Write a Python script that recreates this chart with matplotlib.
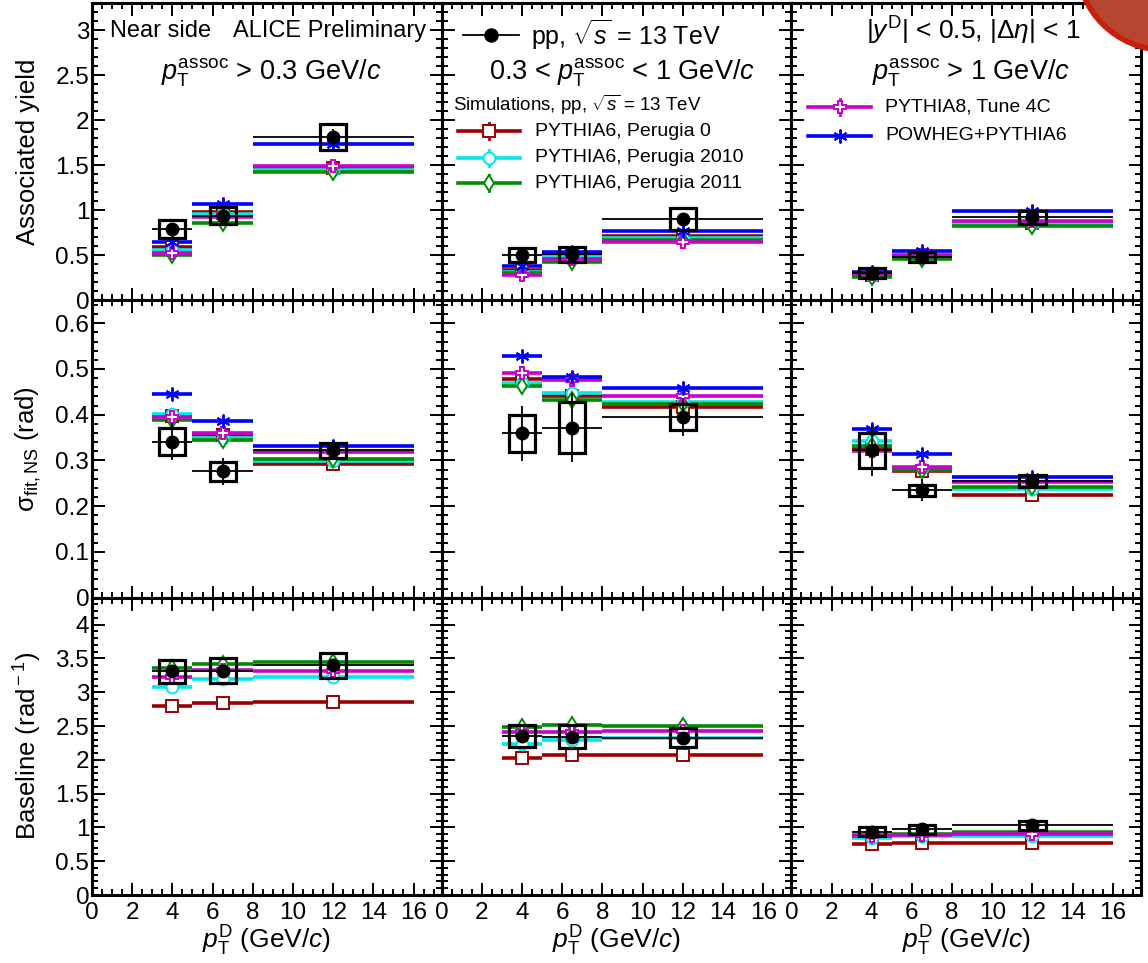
import matplotlib
matplotlib.use("Agg")
import matplotlib.pyplot as plt
from matplotlib.patches import Rectangle, Ellipse
from matplotlib.lines import Line2D
from matplotlib.ticker import MultipleLocator, FuncFormatter

plt.rcParams["font.family"] = ["Liberation Sans", "DejaVu Sans"]
plt.rcParams["mathtext.fontset"] = "custom"
plt.rcParams["mathtext.rm"] = "Liberation Sans"
plt.rcParams["mathtext.it"] = "Liberation Sans:italic"
plt.rcParams["mathtext.bf"] = "Liberation Sans:bold"

# D-meson pT bins
pt_lo = [3, 5, 8]
pt_hi = [5, 8, 16]
pt_mid = [4, 6.5, 12]

# columns: pT assoc > 0.3, 0.3-1, > 1 GeV/c
# associated yield
yield_data = [[0.79, 0.94, 1.81], [0.50, 0.51, 0.90], [0.30, 0.48, 0.92]]
yield_stat = [[0.04, 0.05, 0.09], [0.03, 0.03, 0.05], [0.02, 0.02, 0.04]]
yield_syst = [[0.10, 0.095, 0.145], [0.08, 0.08, 0.12], [0.055, 0.055, 0.075]]
yield_p0 = [[0.59, 0.98, 1.47], [0.34, 0.51, 0.71], [0.28, 0.48, 0.86]]
yield_p2010 = [[0.56, 0.96, 1.45], [0.31, 0.48, 0.69], [0.27, 0.49, 0.85]]
yield_p2011 = [[0.50, 0.86, 1.42], [0.30, 0.42, 0.67], [0.26, 0.46, 0.83]]
yield_p8 = [[0.53, 0.92, 1.49], [0.28, 0.46, 0.65], [0.29, 0.50, 0.88]]
yield_powheg = [[0.65, 1.07, 1.74], [0.38, 0.54, 0.77], [0.31, 0.55, 0.99]]

# near-side width
sigma_data = [[0.341, 0.276, 0.322], [0.359, 0.372, 0.395], [0.322, 0.235, 0.255]]
sigma_stat = [[0.04, 0.03, 0.02], [0.06, 0.075, 0.042], [0.056, 0.024, 0.015]]
sigma_syst = [[0.03, 0.02, 0.016], [0.041, 0.055, 0.029], [0.039, 0.012, 0.013]]
sigma_p0 = [[0.397, 0.355, 0.292], [0.477, 0.441, 0.417], [0.325, 0.276, 0.225]]
sigma_p2010 = [[0.401, 0.350, 0.299], [0.470, 0.448, 0.428], [0.343, 0.283, 0.237]]
sigma_p2011 = [[0.388, 0.345, 0.303], [0.463, 0.432, 0.423], [0.332, 0.280, 0.242]]
sigma_p8 = [[0.394, 0.359, 0.319], [0.492, 0.475, 0.441], [0.321, 0.286, 0.252]]
sigma_powheg = [[0.445, 0.386, 0.332], [0.528, 0.483, 0.459], [0.368, 0.314, 0.264]]

# baseline
base_data = [[3.31, 3.32, 3.40], [2.35, 2.34, 2.33], [0.935, 0.97, 1.03]]
base_stat = [[0.04, 0.04, 0.04], [0.03, 0.03, 0.03], [0.02, 0.02, 0.02]]
base_syst = [[0.17, 0.18, 0.185], [0.16, 0.17, 0.14], [0.065, 0.06, 0.07]]
base_p0 = [[2.80, 2.84, 2.86], [2.03, 2.07, 2.07], [0.75, 0.77, 0.77]]
base_p2010 = [[3.08, 3.19, 3.23], [2.24, 2.30, 2.33], [0.85, 0.87, 0.88]]
base_p2011 = [[3.36, 3.42, 3.45], [2.49, 2.51, 2.50], [0.886, 0.91, 0.925]]
base_p8 = [[3.23, 3.33, 3.32], [2.41, 2.41, 2.43], [0.87, 0.89, 0.90]]

# model styles: label, color, marker
models = [
    ("PYTHIA6, Perugia 0", "#990000", "s"),
    ("PYTHIA6, Perugia 2010", "#00e8e8", "o"),
    ("PYTHIA6, Perugia 2011", "#008c00", "d"),
    ("PYTHIA8, Tune 4C", "#cc00cc", "P"),
    ("POWHEG+PYTHIA6", "#0000ff", (6, 2, 0)),
]

rows = [
    (yield_data, yield_stat, yield_syst,
     [yield_p0, yield_p2010, yield_p2011, yield_p8, yield_powheg],
     3.3, 0.5, 0.1, "Associated yield"),
    (sigma_data, sigma_stat, sigma_syst,
     [sigma_p0, sigma_p2010, sigma_p2011, sigma_p8, sigma_powheg],
     0.65, 0.1, 0.02, r"$\mathrm{\sigma}_{\rm fit,NS}$ (rad)"),
    (base_data, base_stat, base_syst,
     [base_p0, base_p2010, base_p2011, base_p8, None],
     4.4, 0.5, 0.1, r"Baseline (rad$^{\rm -1}$)"),
]

W, H = 1148, 963
fig, axes = plt.subplots(3, 3, figsize=(W / 100, H / 100), dpi=100)
fig.subplots_adjust(left=92 / W, right=1141 / W, top=1 - 3 / H,
                    bottom=1 - 895 / H, wspace=0, hspace=0)

xerr = [[m - lo for m, lo in zip(pt_mid, pt_lo)],
        [hi - m for m, hi in zip(pt_mid, pt_hi)]]
fmt_g = FuncFormatter(lambda v, p: "%g" % round(v, 3))

for r, (data, stat, syst, mods, ymax, major, minor, ylab) in enumerate(rows):
    for c in range(3):
        ax = axes[r, c]
        for (label, col, mk), vals in zip(models, mods):
            if vals is None:
                continue
            ms = 10 if isinstance(mk, tuple) else 8.5
            ax.errorbar(pt_mid, vals[c], xerr=xerr, fmt="none", ecolor=col,
                        elinewidth=2.6, capsize=0, zorder=2)
            ax.plot(pt_mid, vals[c], ls="none", marker=mk, ms=ms, mec=col,
                    mfc="white" if mk != (6, 2, 0) else col, mew=1.4, zorder=3)
        ax.errorbar(pt_mid, data[c], xerr=xerr, yerr=stat[c], fmt="o",
                    color="black", ms=9, elinewidth=1.3, capsize=0, zorder=5)
        for x, y, s in zip(pt_mid, data[c], syst[c]):
            ax.add_patch(Rectangle((x - 0.65, y - s), 1.3, 2 * s, fill=False,
                                   ec="black", lw=2.3, zorder=6))

        ax.set_xlim(0, 17.4)
        ax.set_ylim(0, ymax)
        ax.xaxis.set_major_locator(MultipleLocator(2))
        ax.xaxis.set_minor_locator(MultipleLocator(0.5))
        ax.yaxis.set_major_locator(MultipleLocator(major))
        ax.yaxis.set_minor_locator(MultipleLocator(minor))
        ax.yaxis.set_major_formatter(fmt_g)
        ax.set_xticks([0, 2, 4, 6, 8, 10, 12, 14, 16])
        ax.tick_params(which="both", direction="in", top=True, right=True,
                       labelsize=17.5, width=1.4)
        ax.tick_params(which="major", length=9)
        ax.tick_params(which="minor", length=4.5)
        ax.tick_params(axis="y", pad=2)
        ax.tick_params(axis="x", pad=5)
        for sp in ax.spines.values():
            sp.set_linewidth(2.2)
        if c > 0:
            ax.tick_params(labelleft=False)
        if r < 2:
            ax.tick_params(labelbottom=False)
        else:
            ax.text(0.5, -0.155, r"$\it{p}_{\rm T}^{\rm D}$ (GeV/$\it{c}$)",
                    transform=ax.transAxes, ha="center", va="center", fontsize=19)
    pos = axes[r, 0].get_position()
    fig.text(28 / W, (pos.y0 + pos.y1) / 2, ylab, rotation=90, ha="center",
             va="center", fontsize=18.5)


def fx(x):
    return x / W


def fy(y):
    return 1 - y / H


# panel captions
fig.text(fx(110), fy(31), "Near side", fontsize=17, va="center")
fig.text(fx(233), fy(31), "ALICE Preliminary", fontsize=17, va="center")
fig.text(fx(271), fy(73), r"$\it{p}_{\rm T}^{\rm assoc}$ > 0.3 GeV/$\it{c}$",
         fontsize=19.5, ha="center", va="center")
fig.text(fx(622), fy(73), r"0.3 < $\it{p}_{\rm T}^{\rm assoc}$ < 1 GeV/$\it{c}$",
         fontsize=19.5, ha="center", va="center")
fig.text(fx(973), fy(31), r"|$\it{y}^{\rm D}$| < 0.5, |$\Delta\eta$| < 1",
         fontsize=19, ha="center", va="center")
fig.text(fx(971), fy(73), r"$\it{p}_{\rm T}^{\rm assoc}$ > 1 GeV/$\it{c}$",
         fontsize=19.5, ha="center", va="center")
fig.text(fx(453), fy(105), r"Simulations, pp, $\sqrt{s}$ = 13 TeV",
         fontsize=13.5, va="center")


def key(x0, x1, y, col, mk, lw, ms, text, fs, tx, vbar=False, filled=False):
    fig.add_artist(Line2D([fx(x0), fx(x1)], [fy(y), fy(y)], color=col, lw=lw))
    xm = (x0 + x1) / 2
    if vbar:
        fig.add_artist(Line2D([fx(xm), fx(xm)], [fy(y - 8), fy(y + 8)],
                              color=col, lw=2))
    fig.add_artist(Line2D([fx(xm)], [fy(y)], ls="none", marker=mk, ms=ms,
                          mec=col, mfc=col if filled else "white", mew=1.4))
    fig.text(fx(tx), fy(y), text, fontsize=fs, va="center")


key(463, 519, 35, "black", "o", 1.3, 9, r"pp, $\sqrt{s}$ = 13 TeV", 18, 531,
    filled=True)
for (label, col, mk), y in zip(models[:3], [131, 158, 183]):
    key(458, 520, y, col, mk, 2.6, 8.5, label, 14, 535, vbar=True)
key(808, 871, 107, models[3][1], models[3][2], 2.6, 8.5, models[3][0], 14, 885,
    vbar=True)
key(808, 871, 136, models[4][1], models[4][2], 2.6, 10, models[4][0], 14, 885,
    filled=True)

# logo corner
fig.add_artist(Ellipse((fx(1165), fy(-38)), 2 * 88 / W, 2 * 88 / H,
                       fc="#b8452f", ec="#c8200c", lw=4, zorder=10))

fig.savefig("out.png", dpi=100)
